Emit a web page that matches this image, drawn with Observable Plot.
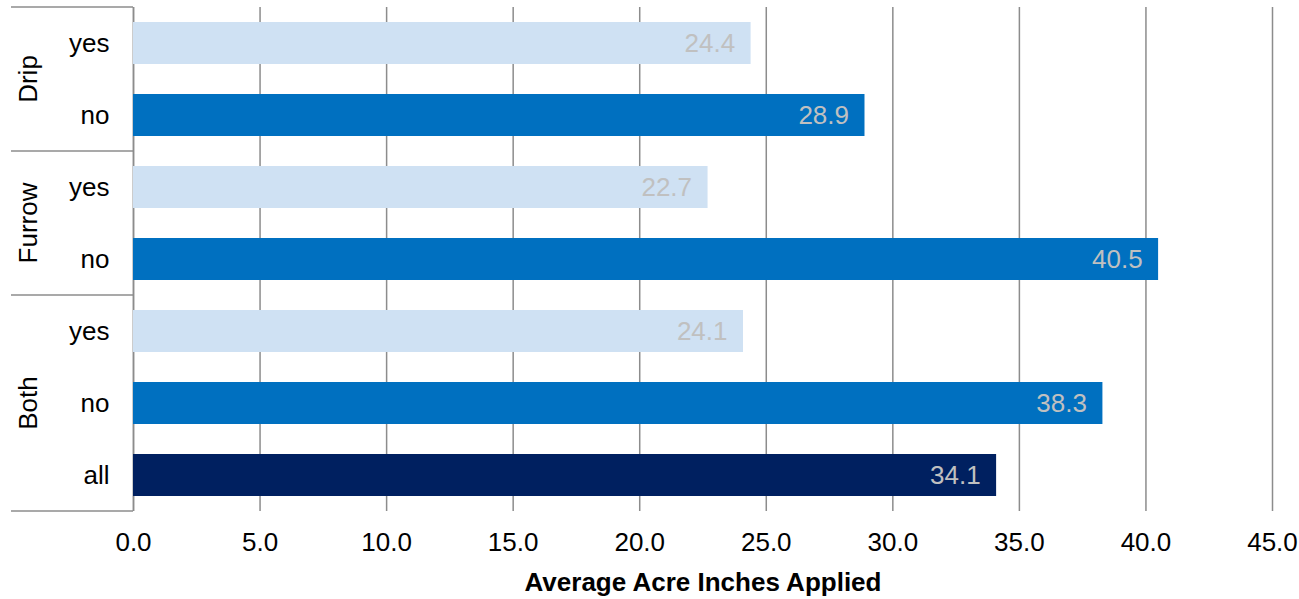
<!DOCTYPE html>
<html>
<head>
<meta charset="utf-8">
<script src="https://cdn.jsdelivr.net/npm/d3@7"></script>
<script src="https://cdn.jsdelivr.net/npm/@observablehq/plot@0.6"></script>
<style>
  html, body { margin: 0; padding: 0; background: #fff; }
  #chart { width: 1299px; height: 599px; }
</style>
</head>
<body>
<div id="chart"></div>
<script>
const groups = ["Drip", "Drip", "Furrow", "Furrow", "Both", "Both", "Both"];
const subs = ["yes", "no", "yes", "no", "yes", "no", "all"];
const values = [24.4, 28.9, 22.7, 40.5, 24.1, 38.3, 34.1];
const xTicks = [0, 5, 10, 15, 20, 25, 30, 35, 40, 45];
const groupNames = ["Drip", "Furrow", "Both"];
const subNames = ["yes", "no", "all"];
const subColors = ["#cfe1f3", "#0070c0", "#002060"];
const xLabel = "Average Acre Inches Applied";

const data = values.map((v, i) => ({group: groups[i], sub: subs[i], key: groups[i] + "|" + subs[i], value: v}));
const keys = data.map(d => d.key);

const font = "'Liberation Sans', Arial, sans-serif";
const fs = 26;

// group brackets + rotated labels, positioned via the y scale
function groupMark(index, scales, values, dim) {
  const y = scales.y;
  const bw = y.bandwidth();
  const step = y.step();
  const gap = (step - bw) / 2;
  const g = d3.create("svg:g");
  const x0 = 11, x1 = dim.marginLeft;
  const boundaries = [];
  groupNames.forEach((name, gi) => {
    const ks = keys.filter(k => k.startsWith(name + "|"));
    const top = y(ks[0]) - gap;
    const bottom = y(ks[ks.length - 1]) + bw + gap;
    if (gi === 0) boundaries.push(top);
    boundaries.push(bottom);
    g.append("text")
      .attr("transform", `translate(30,${(top + bottom) / 2}) rotate(-90)`)
      .attr("text-anchor", "middle")
      .attr("dominant-baseline", "middle")
      .attr("font-size", fs)
      .attr("font-family", font)
      .attr("fill", "#000")
      .text(name);
  });
  boundaries.forEach(b => {
    g.append("line")
      .attr("x1", x0).attr("x2", x1)
      .attr("y1", b).attr("y2", b)
      .attr("stroke", "#8c8c8c").attr("stroke-width", 1.5);
  });
  return g.node();
}

const chart = Plot.plot({
  width: 1299,
  height: 599,
  marginTop: 7,
  marginBottom: 88,
  marginLeft: 133,
  marginRight: 27,
  style: {fontFamily: font, fontSize: fs + "px", color: "#000", background: "#fff"},
  x: {domain: [0, 45], ticks: xTicks},
  y: {domain: keys, paddingInner: 30 / 72, paddingOuter: 15 / 72, align: 0.5},
  color: {domain: subNames, range: subColors},
  marks: [
    Plot.gridX(xTicks, {stroke: "#8c8c8c", strokeOpacity: 1, strokeWidth: 1.5}),
    Plot.ruleX([0], {stroke: "#8c8c8c", strokeWidth: 1.5}),
    Plot.barX(data, {x: "value", y: "key", fill: "sub"}),
    Plot.text(data, {x: "value", y: "key", text: d => d.value.toFixed(1), textAnchor: "end", dx: -16, fill: "#c0c0c0", fontSize: fs}),
    Plot.axisX(xTicks, {tickSize: 0, tickPadding: 21, tickFormat: d3.format(".1f"), fontSize: fs, label: null}),
    Plot.axisY({tickSize: 0, tickPadding: 24, tickFormat: d => d.split("|")[1], fontSize: fs, label: null}),
    Plot.text([xLabel], {frameAnchor: "bottom", dy: 71, lineAnchor: "middle", fontWeight: "bold", fontSize: fs, fill: "#000"}),
    groupMark
  ]
});
document.getElementById("chart").appendChild(chart);
</script>
</body>
</html>
